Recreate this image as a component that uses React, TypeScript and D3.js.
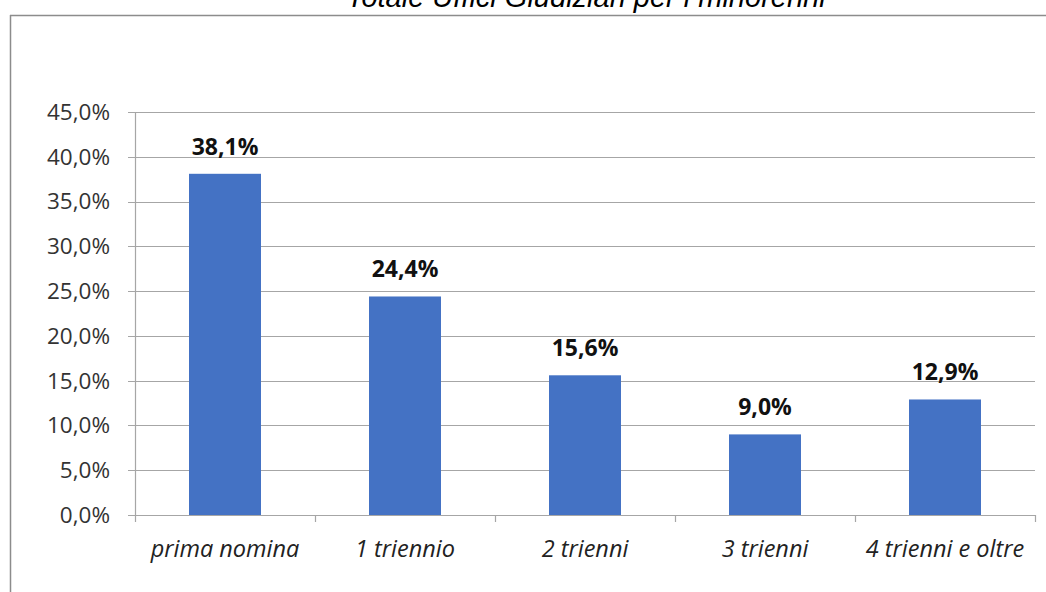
import React, { useEffect, useRef } from "react";
import * as d3 from "d3";

const categories = ["prima nomina", "1 triennio", "2 trienni", "3 trienni", "4 trienni e oltre"];
const values = [38.1, 24.4, 15.6, 9.0, 12.9];
const yTicks = [0, 5, 10, 15, 20, 25, 30, 35, 40, 45];
const title = "Totale Uffici Giudiziari per i minorenni";

const W = 1046;
const H = 592;
const fmt = (v: number) => v.toFixed(1).replace(".", ",") + "%";

export default function App() {
  const ref = useRef<SVGSVGElement | null>(null);
  useEffect(() => {
    const svg = d3.select(ref.current);
    svg.selectAll("*").remove();
    const left = 135, right = 1035, top = 112, bottom = 515;
    const x = d3.scaleBand<string>().domain(categories).range([left, right]).paddingInner(0.6).paddingOuter(0.3);
    const y = d3.scaleLinear().domain([0, 45]).range([bottom, top]);

    // frame
    svg.append("line").attr("x1", 10).attr("x2", W).attr("y1", 15.5).attr("y2", 15.5)
      .attr("stroke", "#8c8c8c").attr("stroke-width", 1.5);
    svg.append("line").attr("x1", 10.5).attr("x2", 10.5).attr("y1", 15).attr("y2", H)
      .attr("stroke", "#8c8c8c").attr("stroke-width", 1.5);

    // title
    svg.append("text").attr("x", 586).attr("y", 7).attr("text-anchor", "middle")
      .attr("font-family", "Liberation Sans, Arial, sans-serif").attr("font-style", "italic")
      .attr("font-size", 29).attr("fill", "#000").text(title);

    // grid lines
    const g = svg.append("g");
    yTicks.forEach((t) => {
      g.append("line").attr("x1", left - 7).attr("x2", right).attr("y1", Math.round(y(t)) + 0.5).attr("y2", Math.round(y(t)) + 0.5)
        .attr("stroke", "#a6a6a6").attr("stroke-width", 1.2);
      g.append("text").attr("x", 110).attr("y", y(t)).attr("dy", "0.35em").attr("text-anchor", "end")
        .attr("font-family", "Open Sans, sans-serif").attr("font-size", 22.5).attr("fill", "#333").text(fmt(t));
    });
    // y axis line
    g.append("line").attr("x1", left + 0.5).attr("x2", left + 0.5).attr("y1", top).attr("y2", bottom)
      .attr("stroke", "#a6a6a6").attr("stroke-width", 1.2);

    // category ticks
    const step = x.step();
    for (let i = 0; i <= categories.length; i++) {
      const xx = Math.round(left + i * step) + 0.5;
      g.append("line").attr("x1", xx).attr("x2", xx).attr("y1", bottom).attr("y2", bottom + 7)
        .attr("stroke", "#a6a6a6").attr("stroke-width", 1.2);
    }

    // bars
    svg.append("g").selectAll("rect").data(values).join("rect")
      .attr("x", (_, i) => x(categories[i])!)
      .attr("width", x.bandwidth())
      .attr("y", (d) => y(d))
      .attr("height", (d) => y(0) - y(d))
      .attr("fill", "#4472c4");

    // data labels
    svg.append("g").selectAll("text").data(values).join("text")
      .attr("x", (_, i) => x(categories[i])! + x.bandwidth() / 2)
      .attr("y", (d) => y(d) - 19)
      .attr("text-anchor", "middle")
      .attr("font-family", "Open Sans, sans-serif").attr("font-weight", "bold")
      .attr("font-size", 23).attr("fill", "#111")
      .text((d) => fmt(d));

    // category labels
    svg.append("g").selectAll("text").data(categories).join("text")
      .attr("x", (d) => x(d)! + x.bandwidth() / 2)
      .attr("y", 557)
      .attr("text-anchor", "middle")
      .attr("font-family", "Open Sans, sans-serif").attr("font-style", "italic")
      .attr("font-size", 23.5).attr("fill", "#222")
      .text((d) => d);
  }, []);
  return (
    <svg ref={ref} width={W} height={H} style={{ position: "absolute", left: 0, top: 0, background: "#fff" }} />
  );
}
